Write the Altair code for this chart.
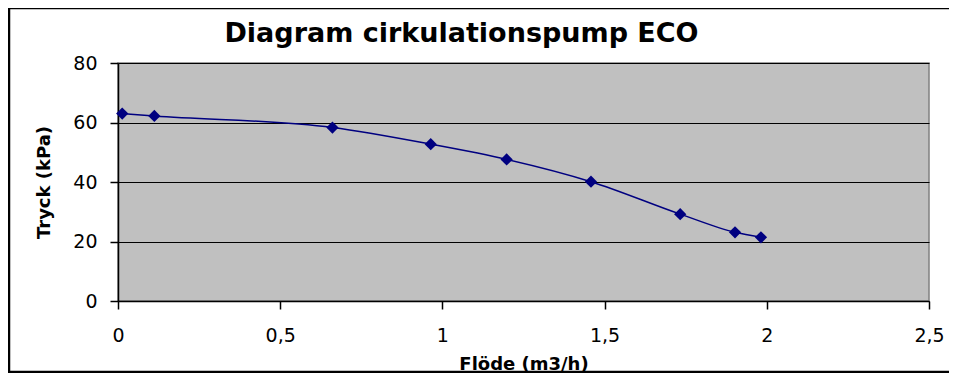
import altair as alt
import pandas as pd

# Data
flow = [0.013, 0.112, 0.661, 0.964, 1.198, 1.458, 1.733, 1.902, 1.982]
pressure = [63.0, 62.2, 58.3, 52.7, 47.6, 40.1, 29.2, 23.1, 21.4]
x_ticks = [0, 0.5, 1, 1.5, 2, 2.5]
y_ticks = [0, 20, 40, 60, 80]

df = pd.DataFrame({"flow": flow, "pressure": pressure})

NAVY = "#000080"
LABEL_EXPR = "replace(toString(datum.value), '.', ',')"

x_enc = alt.X(
    "flow:Q",
    scale=alt.Scale(domain=[0, 2.5], nice=False, zero=True),
    axis=alt.Axis(
        values=x_ticks,
        labelExpr=LABEL_EXPR,
        labelFlush=False,
        title="Flöde (m3/h)",
        grid=False,
        tickSize=8,
        labelPadding=17,
        titleY=68,
        titleBaseline="alphabetic",
    ),
)
y_enc = alt.Y(
    "pressure:Q",
    scale=alt.Scale(domain=[0, 80], nice=False),
    axis=alt.Axis(
        values=y_ticks,
        labelFlush=False,
        title="Tryck (kPa)",
        grid=True,
        tickSize=8,
        labelPadding=13,
        titleX=-69,
        titleY=119,
        titleAngle=-90,
        titleAlign="center",
        titleBaseline="alphabetic",
    ),
)

base = alt.Chart(df)

line = base.mark_line(color=NAVY, strokeWidth=1.5, interpolate="monotone").encode(
    x=x_enc, y=y_enc
)
points = base.mark_point(
    shape="diamond", filled=True, color=NAVY, size=150, opacity=1
).encode(x=x_enc, y=y_enc)

frame = alt.Chart(pd.DataFrame({"a": [0]})).mark_rect(
    filled=False, stroke="black", strokeWidth=2.5, fill=None
).encode(
    x=alt.value(-109),
    x2=alt.value(850),
    y=alt.value(-55),
    y2=alt.value(309),
)

chart = (
    alt.layer(frame, line, points)
    .properties(
        width=811,
        height=238,
        autosize=alt.AutoSizeParams(type="none"),
        padding={"left": 110, "top": 55, "right": 20, "bottom": 72},
        background="white",
        title=alt.TitleParams(
            "Diagram cirkulationspump ECO",
            font="DejaVu Sans",
            fontSize=27,
            fontWeight="bold",
            color="black",
            anchor="middle",
            frame="group",
            dx=-62,
            offset=-41,
        ),
    )
    .configure_view(fill="#C0C0C0", stroke="#808080", strokeWidth=1.5)
    .configure_axis(
        labelFont="DejaVu Sans",
        labelFontSize=19,
        labelColor="black",
        titleFont="DejaVu Sans",
        titleFontSize=18,
        titleFontWeight="bold",
        titleColor="black",
        domainColor="black",
        domainWidth=1.5,
        tickColor="black",
        tickWidth=1.5,
        gridColor="black",
        gridWidth=1.2,
        gridOpacity=1,
    )
)

chart.save("out.html", embed_options={"renderer": "svg", "actions": False})
